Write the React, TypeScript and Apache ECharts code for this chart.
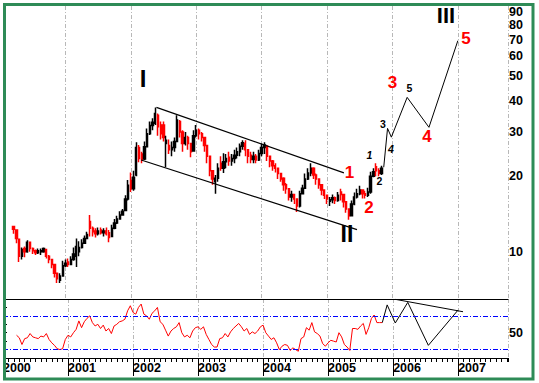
import React, { useEffect, useRef } from 'react';
import * as echarts from 'echarts';

// Half-monthly bars; x is measured in months since January 2000
const START_MONTH = 2.5;
const STEP_MONTHS = 0.5;

// [open, close, low, high]
const bars2000 = [
  [12.6, 12.3, 11.8, 12.7], [12.2, 11.3, 10.8, 12.2], [11.2, 9.6, 9.1, 11.2], [9.6, 10.2, 9.3, 10.4],
  [10.3, 10.0, 9.5, 10.5], [10.0, 10.9, 9.9, 11.1], [10.9, 10.3, 10.0, 10.9], [10.3, 10.1, 9.8, 10.4],
  [10.1, 9.9, 9.7, 10.2], [9.9, 10.1, 9.8, 10.3], [10.0, 10.1, 9.7, 10.3], [10.0, 10.3, 9.9, 10.4],
  [10.2, 9.6, 9.4, 10.2], [9.6, 9.3, 9.0, 9.7], [9.3, 8.9, 8.6, 9.3], [8.9, 8.2, 7.9, 8.9],
  [8.2, 7.8, 7.5, 8.2], [7.7, 8.0, 7.5, 8.2], [8.0, 8.8, 8.0, 9.2],
];
const bars2001 = [
  [8.8, 9.0, 8.7, 9.3], [9.1, 8.9, 8.7, 9.4], [8.9, 9.3, 8.9, 9.6], [9.3, 9.8, 9.2, 10.4],
  [9.6, 10.5, 8.7, 11.3], [10.0, 10.4, 9.6, 11.0], [10.4, 10.8, 10.3, 11.2], [10.8, 11.3, 10.8, 11.6],
  [11.3, 11.7, 11.2, 12.0], [13.2, 12.4, 11.5, 14.0], [12.4, 12.0, 11.5, 12.6], [12.1, 11.8, 11.4, 12.4],
  [11.8, 12.1, 11.6, 12.5], [12.2, 11.9, 11.7, 12.5], [11.9, 12.1, 11.5, 12.4], [12.1, 11.8, 11.6, 12.5],
  [11.9, 11.4, 10.9, 12.2], [11.5, 12.4, 11.5, 12.8], [12.4, 13.0, 12.3, 13.5], [13.0, 13.5, 12.9, 13.9],
  [13.5, 14.0, 13.4, 14.5], [14.0, 14.5, 13.9, 14.8], [14.6, 16.2, 14.5, 16.8], [16.2, 18.4, 16.0, 19.3],
];
const bars2002 = [
  [19.2, 17.8, 17.3, 20.7], [17.8, 19.8, 17.5, 21.0], [20.2, 26.0, 20.0, 27.3], [26.0, 23.5, 22.7, 26.6],
  [24.5, 23.2, 22.5, 25.0], [23.4, 26.2, 23.2, 27.5], [26.2, 29.5, 26.0, 31.0], [29.5, 31.8, 29.2, 33.0],
  [31.8, 32.8, 30.5, 34.0], [32.5, 35.5, 32.0, 37.5], [35.0, 31.5, 29.0, 35.5], [32.0, 29.5, 28.0, 33.0],
  [32.0, 28.5, 27.5, 33.0], [27.0, 27.8, 21.7, 29.0], [26.5, 25.5, 24.5, 28.0], [25.5, 26.0, 24.0, 27.5],
  [26.0, 27.5, 25.0, 28.5], [27.5, 33.5, 27.5, 35.0], [33.0, 30.0, 28.5, 33.5], [30.0, 27.0, 25.0, 30.5],
  [27.0, 28.5, 26.5, 30.0], [28.5, 27.0, 25.5, 29.0], [27.0, 25.0, 23.8, 27.0], [25.2, 29.0, 25.0, 30.5],
];
const bars2003 = [
  [29.0, 30.5, 28.5, 32.0], [30.5, 29.5, 28.0, 31.0], [29.5, 28.5, 27.5, 30.0], [28.5, 26.5, 25.0, 28.5],
  [26.5, 24.0, 22.5, 26.5], [24.0, 21.0, 20.0, 24.0], [21.0, 19.5, 18.5, 21.0], [19.0, 19.6, 17.0, 20.2],
  [19.6, 21.5, 19.0, 22.5], [22.5, 21.5, 21.0, 24.0], [21.5, 22.8, 20.6, 24.7], [22.8, 23.5, 21.5, 24.5],
  [23.8, 23.0, 22.0, 25.0], [23.0, 23.5, 22.0, 24.5], [23.5, 24.2, 22.5, 25.5], [24.2, 25.0, 23.5, 26.0],
  [25.0, 26.3, 24.0, 27.0], [26.3, 27.2, 25.5, 27.8], [27.0, 25.5, 24.0, 27.8], [25.5, 24.0, 22.5, 25.5],
  [24.2, 23.3, 22.5, 25.0], [23.3, 24.0, 22.5, 25.0], [24.0, 23.2, 22.5, 24.5], [23.2, 24.6, 23.0, 25.5],
];
const bars2004 = [
  [24.6, 26.0, 24.0, 27.0], [26.0, 26.6, 24.5, 27.3], [26.4, 24.0, 23.0, 26.5], [24.0, 23.0, 21.7, 24.0],
  [23.0, 22.0, 21.0, 23.2], [22.0, 21.5, 20.7, 22.5], [21.5, 20.5, 19.5, 21.5], [20.5, 19.5, 19.0, 20.5],
  [19.6, 18.5, 17.5, 19.8], [18.5, 17.8, 17.0, 18.8], [17.8, 16.5, 16.0, 17.8], [16.5, 16.9, 15.8, 17.5],
  [16.9, 16.2, 15.5, 17.0], [16.2, 15.2, 14.4, 16.2], [15.2, 17.0, 15.0, 17.5], [17.0, 17.9, 17.0, 18.5],
  [17.9, 19.5, 17.8, 20.5], [19.5, 20.6, 19.3, 21.5], [20.6, 21.5, 20.0, 22.5], [21.5, 20.2, 19.5, 21.7],
  [20.2, 19.5, 18.5, 20.5], [19.5, 18.5, 17.8, 19.5], [18.5, 17.6, 16.8, 18.5], [17.6, 16.8, 16.2, 17.6],
];
const bars2005 = [
  [16.8, 16.2, 15.5, 16.8], [15.9, 16.1, 15.2, 16.5], [16.1, 16.4, 15.6, 16.9], [16.4, 16.0, 15.5, 16.6],
  [16.0, 16.8, 15.8, 17.3], [17.3, 16.9, 16.0, 17.8], [16.9, 15.8, 15.0, 16.9], [15.8, 14.8, 14.3, 15.8],
  [14.8, 13.9, 13.4, 14.8], [13.9, 15.5, 13.8, 16.0], [15.5, 16.5, 15.3, 17.2], [16.5, 17.0, 16.3, 17.8],
  [17.0, 17.6, 16.8, 18.3], [17.6, 17.0, 16.3, 17.6], [17.0, 16.8, 16.3, 17.5], [16.8, 17.3, 16.5, 18.0],
  [17.3, 20.0, 17.0, 20.8], [20.0, 20.8, 19.8, 21.5], [21.8, 21.0, 20.0, 22.5], [21.0, 20.5, 20.0, 21.5],
  [20.5, 21.5, 20.2, 22.0],
];

// Oscillator (lower panel), same half-monthly dates
const rsi2000 = [47, 44, 36, 43, 44, 49, 45, 44, 43, 46, 45, 49, 42, 38, 35, 31, 30, 31, 42];
const rsi2001 = [47, 45, 50, 54, 64, 56, 63, 67, 70, 62, 58, 60, 55, 59, 52, 55, 49, 58, 60, 63, 64, 66, 76, 82];
const rsi2002 = [74, 72, 80, 84, 72, 70, 66, 73, 76, 80, 63, 60, 53, 46, 52, 55, 57, 62, 50, 45, 47, 44, 52, 56];
const rsi2003 = [57, 54, 57, 48, 42, 36, 33, 33, 43, 44, 49, 45, 51, 55, 58, 61, 57, 52, 55, 48, 51, 49, 52, 57];
const rsi2004 = [59, 50, 46, 42, 44, 38, 30, 34, 36, 35, 29, 32, 30, 28, 43, 45, 56, 53, 62, 51, 49, 46, 37, 34];
const rsi2005 = [38, 41, 40, 39, 50, 45, 36, 33, 29, 55, 55, 54, 58, 61, 48, 56, 67, 71, 62, 62, 62];

// Channel lines (months, price)
const upperChannelMonths = [28.7, 63.1];
const upperChannelValues = [37.6, 20.6];
const lowerChannelMonths = [25.9, 65.5];
const lowerChannelValues = [23.2, 12.25];

// Projected wave path (months, price)
const waveMonths = [70.4, 71.1, 71.8, 74.7, 78.7, 84.0];
const waveValues = [21.7, 31.0, 28.6, 41.2, 31.3, 69.3];

// Projected oscillator path and its trend line
const rsiProjMonths = [70.0, 70.9, 72.4, 74.7, 78.5, 84.0];
const rsiProjValues = [62, 83, 61.5, 86, 35, 77];
const rsiTrendMonths = [72.4, 84.9];
const rsiTrendValues = [89.6, 74.9];

const priceLabels = [10, 20, 30, 40, 50, 60, 70, 80, 90];
const priceTicks = [10, 15, 20, 25, 30, 35, 40, 45, 50, 55, 60, 65, 70, 75, 80, 85, 90];
const oscLabels = [50];
const oscTicks = [30, 40, 50, 60, 70, 80];
const oscBands = [70, 30];

const FONT = "'Liberation Sans', Arial, Helvetica, sans-serif";

export default function App() {
  const ref = useRef<HTMLDivElement>(null);

  useEffect(() => {
    if (!ref.current) return;
    const chart = echarts.init(ref.current, null, { renderer: 'svg' });
    const L = (v: number) => Math.log10(v);
    const bars = [...bars2000, ...bars2001, ...bars2002, ...bars2003, ...bars2004, ...bars2005];
    const rsi = [...rsi2000, ...rsi2001, ...rsi2002, ...rsi2003, ...rsi2004, ...rsi2005];
    const monthOf = (i: number) => START_MONTH + STEP_MONTHS * i;

    const gridLine = { show: true, lineStyle: { color: '#b8b8b8', width: 1, type: [4, 2, 1, 2] } };
    const blackLine = { show: true, lineStyle: { color: '#000', width: 1 } };

    const txt = (text: string, x: number, y: number, size: number, color: string, italic = false) => ({
      type: 'text',
      x,
      y,
      z: 50,
      style: {
        text,
        fill: color,
        font: `${italic ? 'italic ' : ''}bold ${size}px ${FONT}`,
        textAlign: 'center',
        textVerticalAlign: 'middle',
        align: 'center',
        verticalAlign: 'middle',
      },
    });

    const axisFont = { fontSize: 12.5, fontWeight: 'bold', color: '#000', fontFamily: FONT };

    const option: any = {
      animation: false,
      backgroundColor: '#ffffff',
      grid: [
        { left: -6.2, right: 31, top: 6, height: 293 },
        { left: -6.2, right: 31, top: 299, height: 59 },
      ],
      xAxis: [
        {
          gridIndex: 0, type: 'value', min: 0, max: 93.2, interval: 12,
          axisLine: blackLine, axisTick: { show: false }, axisLabel: { show: false }, splitLine: gridLine,
        },
        {
          gridIndex: 1, type: 'value', min: 0, max: 93.2, interval: 1,
          axisLine: blackLine, axisTick: { show: true, length: 4, lineStyle: { color: '#000' } },
          axisLabel: { show: false }, splitLine: { show: false },
        },
        {
          gridIndex: 1, type: 'value', min: 0, max: 93.2, interval: 12, position: 'bottom',
          axisLine: { show: false },
          axisTick: { show: true, length: 18, lineStyle: { color: '#000' } },
          axisLabel: {
            show: true, showMinLabel: true, showMaxLabel: false,
            formatter: (v: number) => String(2000 + Math.round(v / 12)),
            align: 'left', margin: 3, ...axisFont,
          },
          splitLine: gridLine,
        },
      ],
      yAxis: [
        {
          gridIndex: 0, type: 'value', position: 'right', min: 0.8116, max: 1.9789,
          axisLine: blackLine,
          axisTick: { show: true, length: 4, lineStyle: { color: '#000' }, customValues: priceTicks.map(L) },
          axisLabel: {
            customValues: priceLabels.map(L),
            formatter: (v: number) => String(Math.round(Math.pow(10, v))),
            margin: 1, ...axisFont,
          },
          splitLine: { show: false },
        },
        {
          gridIndex: 1, type: 'value', position: 'right', min: 20, max: 90,
          axisLine: blackLine,
          axisTick: { show: true, length: 4, lineStyle: { color: '#000' }, customValues: oscTicks },
          axisLabel: { customValues: oscLabels, margin: 1, ...axisFont },
          splitLine: { show: false },
        },
      ],
      series: [
        {
          type: 'candlestick', xAxisIndex: 0, yAxisIndex: 0,
          data: bars.map((b, i) => [monthOf(i), L(b[0]), L(b[1]), L(b[2]), L(b[3])]),
          encode: { x: 0, y: [1, 2, 3, 4] },
          barWidth: 1.8,
          itemStyle: { color: '#000000', color0: '#ff0000', borderColor: '#000000', borderColor0: '#ff0000', borderWidth: 1.5 },
          silent: true,
        },
        {
          type: 'line', xAxisIndex: 0, yAxisIndex: 0, symbol: 'none', silent: true,
          lineStyle: { color: '#000', width: 1.2 },
          data: upperChannelMonths.map((m, i) => [m, L(upperChannelValues[i])]),
        },
        {
          type: 'line', xAxisIndex: 0, yAxisIndex: 0, symbol: 'none', silent: true,
          lineStyle: { color: '#000', width: 1.2 },
          data: lowerChannelMonths.map((m, i) => [m, L(lowerChannelValues[i])]),
        },
        {
          type: 'line', xAxisIndex: 0, yAxisIndex: 0, symbol: 'none', silent: true,
          lineStyle: { color: '#000', width: 1 },
          data: waveMonths.map((m, i) => [m, L(waveValues[i])]),
        },
        {
          type: 'line', xAxisIndex: 1, yAxisIndex: 1, symbol: 'none', silent: true,
          lineStyle: { color: '#ff0000', width: 1 },
          data: rsi.map((v, i) => [monthOf(i), v]),
          markLine: {
            silent: true, symbol: 'none', label: { show: false },
            lineStyle: { color: '#0000ff', width: 1, type: [5, 2, 1, 2] },
            data: oscBands.map((v) => ({ yAxis: v })),
          },
        },
        {
          type: 'line', xAxisIndex: 1, yAxisIndex: 1, symbol: 'none', silent: true,
          lineStyle: { color: '#000', width: 1 },
          data: rsiProjMonths.map((m, i) => [m, rsiProjValues[i]]),
        },
        {
          type: 'line', xAxisIndex: 1, yAxisIndex: 1, symbol: 'none', silent: true,
          lineStyle: { color: '#000', width: 1 },
          data: rsiTrendMonths.map((m, i) => [m, rsiTrendValues[i]]),
        },
      ],
      graphic: [
        txt('I', 143, 78, 24, '#000'),
        txt('II', 347, 234, 23, '#000'),
        txt('III', 446, 15, 22, '#000'),
        txt('1', 349.5, 172.5, 17, '#ff0000'),
        txt('2', 369, 207.5, 17, '#ff0000'),
        txt('3', 392.5, 82, 17, '#ff0000'),
        txt('4', 427, 136, 17, '#ff0000'),
        txt('5', 466, 38, 17, '#ff0000'),
        txt('1', 369.5, 155, 10.5, '#000', true),
        txt('2', 379.5, 181, 10.5, '#000'),
        txt('3', 383, 123.5, 10.5, '#000'),
        txt('4', 391, 148.5, 10.5, '#000', true),
        txt('5', 409.5, 88, 10.5, '#000'),
        {
          type: 'rect', z: 100, silent: true,
          shape: { x: 0, y: 0, width: 3, height: 383 },
          style: { fill: '#ffffff' },
        },
        {
          type: 'rect', z: 101, silent: true,
          shape: { x: 4.5, y: 4.5, width: 528.5, height: 374.5 },
          style: { fill: 'none', stroke: '#2e8b57', lineWidth: 3 },
        },
      ],
    };

    chart.setOption(option);
    return () => chart.dispose();
  }, []);

  return <div ref={ref} style={{ position: 'fixed', left: 0, top: 0, width: 539, height: 383 }} />;
}
